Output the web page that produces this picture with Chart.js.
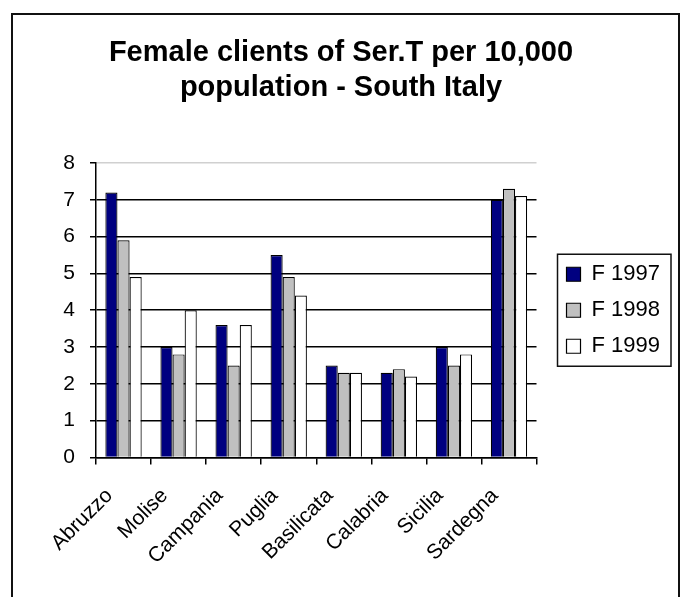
<!DOCTYPE html>
<html>
<head>
<meta charset="utf-8">
<script src="https://cdn.jsdelivr.net/npm/chart.js@4"></script>
<style>
  html, body { margin: 0; padding: 0; background: #fff; }
  #wrap { position: relative; width: 684px; height: 597px; }
</style>
</head>
<body>
<div id="wrap"><canvas id="chart" width="684" height="597"></canvas></div>
<script>
"use strict";

const REGIONS = ["Abruzzo", "Molise", "Campania", "Puglia", "Basilicata", "Calabria", "Sicilia", "Sardegna"];
const F1997 = [7.2, 3.0, 3.6, 5.5, 2.5, 2.3, 3.0, 7.0];
const F1998 = [5.9, 2.8, 2.5, 4.9, 2.3, 2.4, 2.5, 7.3];
const F1999 = [4.9, 4.0, 3.6, 4.4, 2.3, 2.2, 2.8, 7.1];
const SERIES_LABELS = ["F 1997", "F 1998", "F 1999"];
const SERIES_COLORS = ["#000080", "#c0c0c0", "#ffffff"];
const TITLE_LINES = ["Female clients of Ser.T per 10,000", "population - South Italy"];

const FONT = "'Liberation Sans', Arial, sans-serif";

// outer frame + box round the legend, like the Excel original
const framePlugin = {
  id: "frame",
  afterDraw(chart) {
    const ctx = chart.ctx;
    ctx.save();
    ctx.strokeStyle = "#111";
    ctx.lineWidth = 2;
    ctx.strokeRect(12, 14, 667, 620);
    const boxes = chart.legend.legendHitBoxes;
    if (boxes && boxes.length) {
      const l = Math.min(...boxes.map((b) => b.left)) - 9;
      const t = Math.min(...boxes.map((b) => b.top)) - 9;
      const r = Math.max(...boxes.map((b) => b.left + b.width)) + 11;
      const btm = Math.max(...boxes.map((b) => b.top + b.height)) + 9;
      ctx.lineWidth = 1.5;
      ctx.strokeRect(l, t, r - l, btm - t);
    }
    ctx.restore();
  },
};

const datasets = [F1997, F1998, F1999].map((data, i) => ({
  label: SERIES_LABELS[i],
  data,
  backgroundColor: SERIES_COLORS[i],
  borderColor: "#000",
  borderWidth: 1.2,
  categoryPercentage: 0.66,
  barPercentage: 1.0,
}));

new Chart(document.getElementById("chart"), {
  type: "bar",
  data: { labels: REGIONS, datasets },
  plugins: [framePlugin],
  options: {
    responsive: false,
    animation: false,
    layout: { padding: { left: 12, right: 14, top: 0, bottom: 9 } },
    plugins: {
      title: {
        display: true,
        text: TITLE_LINES,
        color: "#000",
        font: { family: FONT, size: 29, weight: "bold", lineHeight: 1.224 },
        padding: { top: 35, bottom: 57 },
      },
      legend: {
        position: "right",
        fullSize: false,
        maxWidth: 200,
        labels: {
          color: "#000",
          font: { family: FONT, size: 22 },
          boxWidth: 14,
          boxHeight: 14,
          padding: 14,
        },
      },
      tooltip: { enabled: false },
    },
    scales: {
      x: {
        grid: { offset: true, drawOnChartArea: false, color: "#000", tickLength: 7, lineWidth: 1.5 },
        border: { color: "#000", width: 1.5 },
        ticks: {
          color: "#000", font: { family: FONT, size: 21 },
          maxRotation: 45, minRotation: 45, padding: 19, labelOffset: -14,
        },
      },
      y: {
        min: 0,
        max: 8,
        afterFit: (s) => { s.width = 84; },
        grid: {
          color: (c) => (c.tick && c.tick.value === 8 ? "#d0d0d0" : "#000"),
          tickColor: "#000",
          tickLength: 6,
          lineWidth: 1.5,
        },
        border: { color: "#000", width: 1.5 },
        ticks: { stepSize: 1, color: "#000", font: { family: FONT, size: 21 }, padding: 15 },
      },
      // empty strip that keeps the plot clear of the legend
      gap: {
        type: "linear",
        position: "right",
        grid: { display: false },
        border: { display: false },
        ticks: { display: false },
        afterFit: (s) => { s.width = 16; },
      },
    },
  },
});
</script>
</body>
</html>
